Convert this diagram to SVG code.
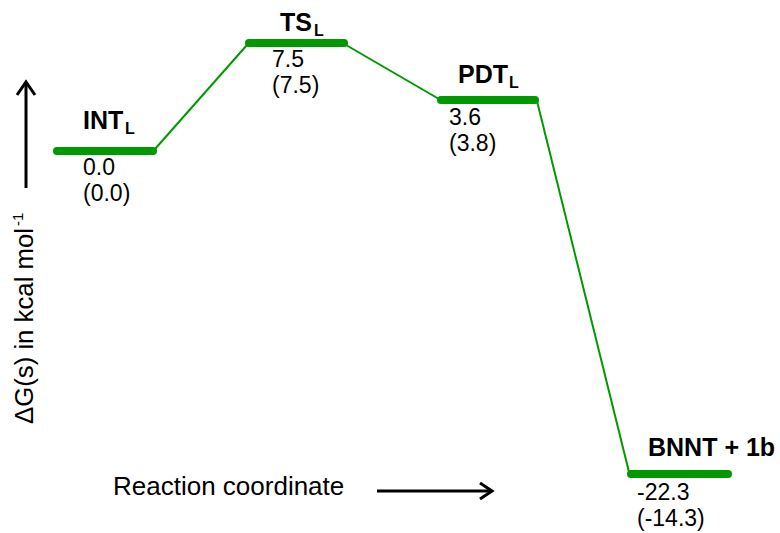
<svg xmlns="http://www.w3.org/2000/svg" width="780" height="533" viewBox="0 0 780 533">
<style>
.bar{stroke:#009900;stroke-width:8;stroke-linecap:round;fill:none}
.con{stroke:#009900;stroke-width:2;fill:none}
.lbl{font-family:"Liberation Sans",Arial,sans-serif;font-weight:bold;font-size:25px;fill:#000}
.sub{font-family:"Liberation Sans",Arial,sans-serif;font-weight:bold;font-size:16px;fill:#000}
.val{font-family:"Liberation Sans",Arial,sans-serif;font-size:23px;fill:#000}
.ax{font-family:"Liberation Sans",Arial,sans-serif;font-size:26px;fill:#000}
.axs{font-family:"Liberation Sans",Arial,sans-serif;font-size:15px;fill:#000}
.arr{stroke:#000;stroke-width:3;fill:none}
</style>
<rect width="780" height="533" fill="#fff"/>
<g id="connectors">
<line class="con" x1="155" y1="149" x2="247" y2="45"/>
<line class="con" x1="346" y1="45" x2="439" y2="99"/>
<line class="con" x1="537" y1="101" x2="629" y2="472"/>
</g>
<g id="INT_L">
<line class="bar" x1="57" y1="151" x2="153" y2="151"/>
<text class="lbl" x="83" y="129">INT</text><text class="sub" x="125" y="134">L</text>
<text class="val" x="83" y="175">0.0</text>
<text class="val" x="83" y="201">(0.0)</text>
</g>
<g id="TS_L">
<line class="bar" x1="249" y1="43" x2="344" y2="43"/>
<text class="lbl" x="280" y="31">TS</text><text class="sub" x="314" y="36">L</text>
<text class="val" x="272" y="67">7.5</text>
<text class="val" x="272" y="93">(7.5)</text>
</g>
<g id="PDT_L">
<line class="bar" x1="441" y1="100" x2="535" y2="100"/>
<text class="lbl" x="458" y="83">PDT</text><text class="sub" x="509" y="88">L</text>
<text class="val" x="449" y="125">3.6</text>
<text class="val" x="449" y="151">(3.8)</text>
</g>
<g id="BNNT_1b">
<line class="bar" x1="631" y1="474" x2="728" y2="474"/>
<text class="lbl" x="648" y="456">BNNT + 1b</text>
<text class="val" x="637" y="500">-22.3</text>
<text class="val" x="637" y="526">(-14.3)</text>
</g>
<g id="y-axis">
<line class="arr" x1="26" y1="188" x2="26" y2="83"/>
<polyline class="arr" points="17,95 26,82 35,95"/>
<g transform="translate(33,424) rotate(-90)">
<text class="ax" x="0" y="0" textLength="196" lengthAdjust="spacingAndGlyphs">ΔG(s) in kcal mol</text>
<text class="axs" x="198" y="-10">-1</text>
</g>
</g>
<g id="x-axis">
<text class="ax" x="113" y="495">Reaction coordinate</text>
<line class="arr" x1="377" y1="491" x2="491" y2="491"/>
<polyline class="arr" points="480,483 492,491 480,499"/>
</g>
</svg>
